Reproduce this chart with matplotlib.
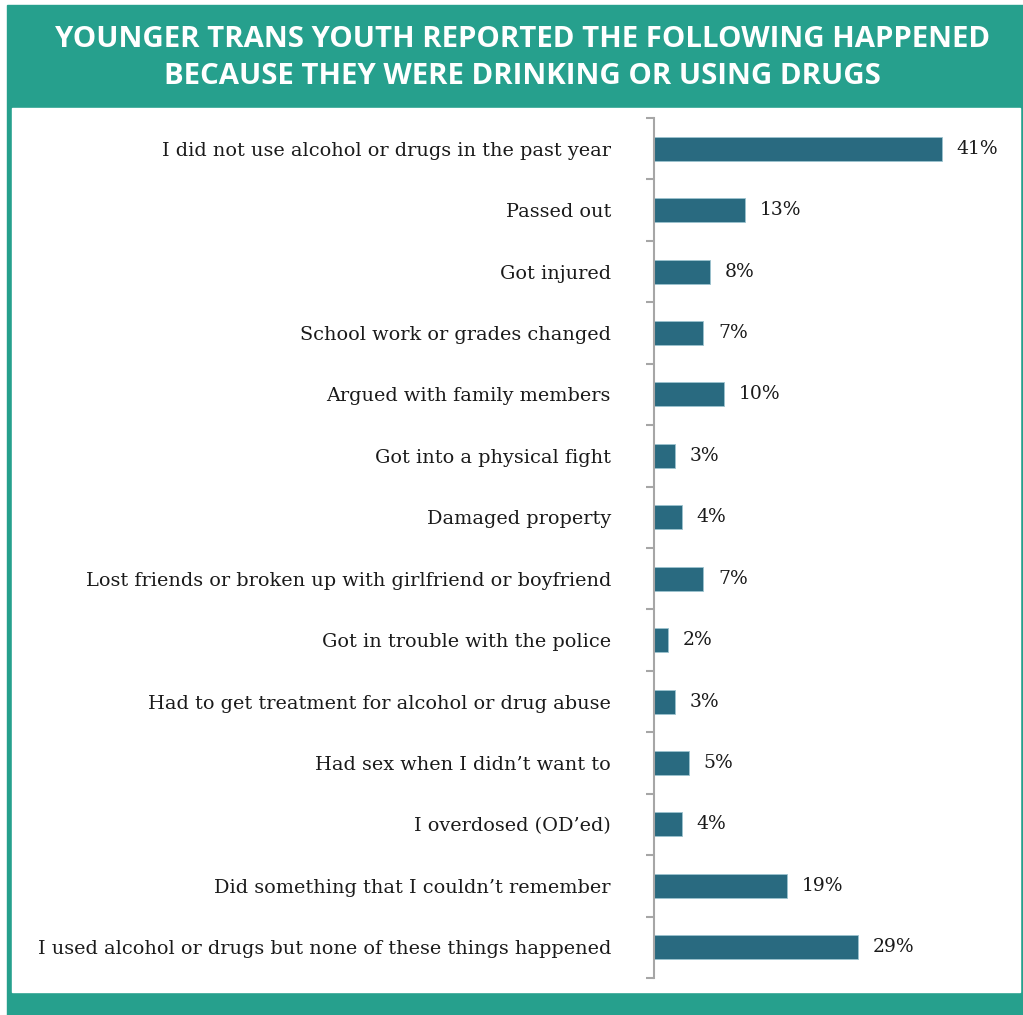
import matplotlib.pyplot as plt
from matplotlib.patches import Rectangle

# data
labels = [
    "I did not use alcohol or drugs in the past year",
    "Passed out",
    "Got injured",
    "School work or grades changed",
    "Argued with family members",
    "Got into a physical fight",
    "Damaged property",
    "Lost friends or broken up with girlfriend or boyfriend",
    "Got in trouble with the police",
    "Had to get treatment for alcohol or drug abuse",
    "Had sex when I didn\u2019t want to",
    "I overdosed (OD\u2019ed)",
    "Did something that I couldn\u2019t remember",
    "I used alcohol or drugs but none of these things happened",
]
values = [41, 13, 8, 7, 10, 3, 4, 7, 2, 3, 5, 4, 19, 29]

title = "YOUNGER TRANS YOUTH REPORTED THE FOLLOWING HAPPENED\nBECAUSE THEY WERE DRINKING OR USING DRUGS"

teal = "#26A08D"
bar_color = "#296A80"
W, H = 1023, 1015

fig = plt.figure(figsize=(W / 100, H / 100), dpi=100)
fig.patch.set_facecolor("white")

# teal frame and white inner panel
fig.patches.append(Rectangle((7 / W, 0), (W - 7) / W, (H - 5) / H,
                             transform=fig.transFigure, color=teal, zorder=-2))
fig.patches.append(Rectangle((12 / W, (H - 992) / H), (1020 - 12) / W, (992 - 108) / H,
                             transform=fig.transFigure, color="white", zorder=-1))

fig.text(0.5 + 11 / W, (H - 58) / H, title, ha="center", va="center", color="white",
         fontsize=21.2, fontweight="bold", family="Open Sans", linespacing=1.32)

ax = fig.add_axes([654 / W, (H - 978) / H, (1017 - 654) / W, (978 - 118) / H])
ax.set_facecolor("none")
y = list(range(len(labels)))
ax.barh(y, values, height=0.39, color=bar_color, edgecolor="#9CC3CF", linewidth=0.6)
ax.set_ylim(len(labels) - 0.5, -0.5)
ax.set_xlim(0, 363 / 7.02)

for i, v in enumerate(values):
    ax.text(v + 2.1, i, f"{v}%", va="center", ha="left", fontsize=13.5,
            family="DejaVu Serif", color="#1a1a1a")

ax.set_yticks(y)
ax.set_yticklabels(labels, fontsize=13.9, family="DejaVu Serif", color="#1a1a1a")
ax.tick_params(axis="y", which="major", length=0, pad=31)
ax.set_yticks([i - 0.5 for i in range(len(labels) + 1)], minor=True)
ax.tick_params(axis="y", which="minor", length=6, width=1.5, color="#A6A6A6")
ax.set_xticks([])
for s in ["top", "right", "bottom"]:
    ax.spines[s].set_visible(False)
ax.spines["left"].set_color("#A6A6A6")
ax.spines["left"].set_linewidth(1.5)

fig.savefig("out.png", dpi=100)
